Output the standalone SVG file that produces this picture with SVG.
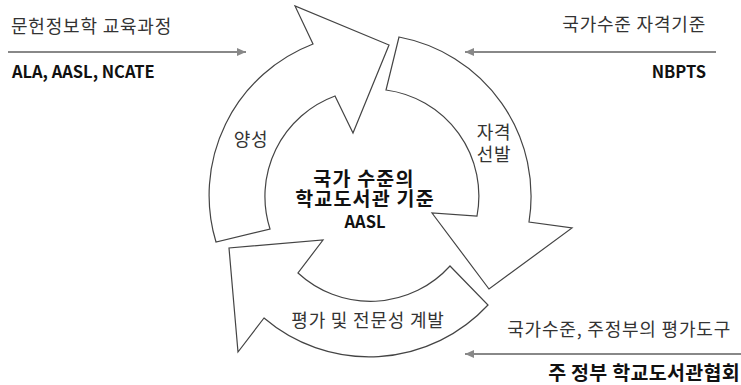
<svg xmlns="http://www.w3.org/2000/svg" width="741" height="385" viewBox="0 0 741 385">
<defs>
<style>
text{font-family:"Noto Sans CJK KR","Noto Sans",sans-serif;}
.lbl{font-size:18px;letter-spacing:0.8px;fill:#333;}
.bld{font-size:16.5px;font-weight:bold;fill:#111;}
.ctr{font-size:19.5px;letter-spacing:1.2px;font-weight:bold;fill:#111;text-anchor:middle;}
.seg{fill:#fff;stroke:#444;stroke-width:1.2;stroke-linejoin:miter;}
.flow{stroke:#888;stroke-width:2;fill:none;}
</style>
<marker id="ah" markerWidth="10" markerHeight="10" refX="9" refY="5" orient="auto" markerUnits="userSpaceOnUse">
<path d="M0,1 L9,5 L0,9 Z" fill="#888"/>
</marker>
</defs>
<rect width="741" height="385" fill="#fff"/>
<g id="cycle">
<g id="seg-yangseong">
<path class="seg" d="M216,242 A162,162 0 0 1 313,44 L295,6 L389,45 L353,133 L335,96 A107,107 0 0 0 270,229 Z"/>
<text class="lbl" x="251" y="146" text-anchor="middle">양성</text>
</g>
<g id="seg-seonbal">
<path class="seg" d="M399,37 A162,162 0 0 1 529,222 L572,228 L489,289 L432,213 L477,216 A107,107 0 0 0 386,90 Z"/>
<text class="lbl" x="494" y="139" text-anchor="middle">자격</text>
<text class="lbl" x="494" y="161" text-anchor="middle">선발</text>
</g>
<g id="seg-pyeongga">
<path class="seg" d="M488,305 A162,162 0 0 1 264,318 L238,352 L229,248 L323,240 L298,273 A107,107 0 0 0 450,266 Z"/>
<text class="lbl" x="368" y="327" text-anchor="middle">평가 및 전문성 계발</text>
</g>
</g>
<g id="center">
<text class="ctr" x="364" y="186">국가 수준의</text>
<text class="ctr" x="365" y="206">학교도서관 기준</text>
<text class="ctr" x="365" y="228" style="font-size:16.5px;letter-spacing:0">AASL</text>
</g>
<g id="connectors">
<line class="flow" x1="8" y1="52" x2="246" y2="52" marker-end="url(#ah)"/>
<line class="flow" x1="716" y1="52" x2="465" y2="52" marker-end="url(#ah)"/>
<line class="flow" x1="741" y1="354" x2="465" y2="354" marker-end="url(#ah)"/>
</g>
<g id="src-top-left">
<text class="lbl" x="11" y="33">문헌정보학 교육과정</text>
<text class="bld" x="12" y="78">ALA, AASL, NCATE</text>
</g>
<g id="src-top-right">
<text class="lbl" x="706" y="31" text-anchor="end">국가수준 자격기준</text>
<text class="bld" x="706" y="78" text-anchor="end">NBPTS</text>
</g>
<g id="src-bottom">
<text class="lbl" x="731" y="336" text-anchor="end">국가수준, 주정부의 평가도구</text>
<text class="ctr" x="740" y="380" style="text-anchor:end;letter-spacing:0.3px">주 정부 학교도서관협회</text>
</g>
</svg>
